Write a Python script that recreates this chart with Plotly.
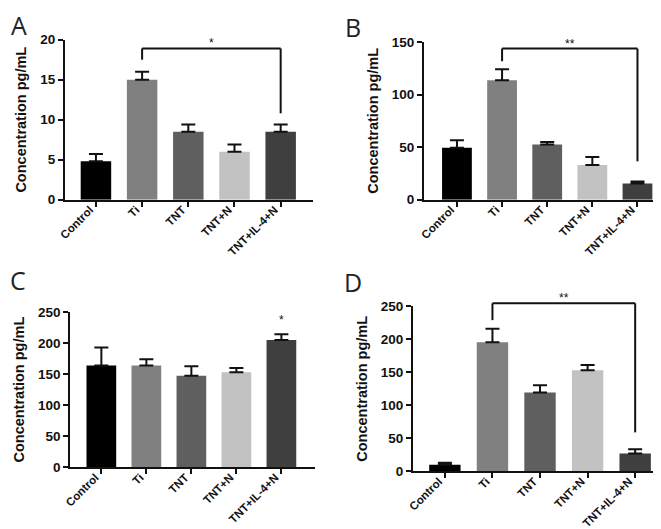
import plotly.graph_objects as go

W, H = 661, 529

groups = ["Control", "Ti", "TNT", "TNT+N", "TNT+IL-4+N"]
bar_colors = ["#000000", "#808080", "#5f5f5f", "#c2c2c2", "#3f3f3f"]

a_mean = [4.8, 15.0, 8.5, 6.0, 8.5]
a_err = [0.9, 1.0, 0.9, 0.9, 0.9]
b_mean = [49.5, 113.5, 52.5, 33.0, 15.5]
b_err = [7.0, 10.5, 2.5, 7.5, 1.8]
c_mean = [164, 164, 147.5, 153, 205]
c_err = [29, 10, 15, 7, 9]
d_mean = [10, 195.5, 119.5, 153, 27]
d_err = [3, 20.5, 11, 8, 6.5]

# significance brackets: (from group, to group, top, left drop, right drop, label)
a_sig = ("Ti", "TNT+IL-4+N", 18.9, 17.5, 10.8, "*")
b_sig = ("Ti", "TNT+IL-4+N", 143.7, 131.7, 36.5, "**")
d_sig = ("Ti", "TNT+IL-4+N", 254.5, 229.0, 59.0, "**")
c_star = ("TNT+IL-4+N", 222.0, "*")

panels = [
    dict(name="A", mean=a_mean, err=a_err, ymax=20, dtick=5,
         xdom=(57 / W, 305 / W), ydom=(1 - 191.7 / H, 1 - 31.7 / H),
         xr=(-0.67, 4.7), sig=a_sig, label_xy=(11, 17)),
    dict(name="B", mean=b_mean, err=b_err, ymax=150, dtick=50,
         xdom=(416 / W, 657 / W), ydom=(1 - 191.7 / H, 1 - 34 / H),
         xr=(-0.73, 4.61), sig=b_sig, label_xy=(345, 19)),
    dict(name="C", mean=c_mean, err=c_err, ymax=250, dtick=50,
         xdom=(62.3 / W, 306.7 / W), ydom=(1 - 459.3 / H, 1 - 304 / H),
         xr=(-0.69, 4.74), sig=None, label_xy=(10, 272)),
    dict(name="D", mean=d_mean, err=d_err, ymax=250, dtick=50,
         xdom=(405 / W, 660 / W), ydom=(1 - 463.3 / H, 1 - 298.3 / H),
         xr=(-0.67, 4.69), sig=d_sig, label_xy=(345, 274)),
]

FONT = "Liberation Sans, Arial, sans-serif"

fig = go.Figure()
shapes = []
annotations = []

for i, p in enumerate(panels, start=1):
    xa = "x" if i == 1 else f"x{i}"
    ya = "y" if i == 1 else f"y{i}"
    fig.add_trace(go.Bar(
        x=groups, y=p["mean"], xaxis=xa, yaxis=ya,
        marker=dict(color=bar_colors, line=dict(width=0)),
        width=0.66,
        error_y=dict(type="data", array=p["err"], arrayminus=[0] * 5,
                     symmetric=False, color="#111111", thickness=2, width=7),
        showlegend=False,
    ))
    axis_common = dict(showline=True, linewidth=2, linecolor="#111111",
                       ticks="outside", ticklen=5, tickwidth=2, tickcolor="#111111",
                       showgrid=False, zeroline=False, automargin=False)
    xkey = "xaxis" if i == 1 else f"xaxis{i}"
    ykey = "yaxis" if i == 1 else f"yaxis{i}"
    fig.update_layout(**{
        xkey: dict(axis_common, domain=list(p["xdom"]), anchor=ya,
                   type="category", range=list(p["xr"]), tickangle=-45,
                   ticklabelstandoff=-8, ticklabelshift=-6,
                   tickfont=dict(family=FONT, size=11.5, color="#111111", weight="bold"),
                   categoryorder="array", categoryarray=groups),
        ykey: dict(axis_common, domain=list(p["ydom"]), anchor=xa,
                   range=[0, p["ymax"]], dtick=p["dtick"], tick0=0,
                   tickfont=dict(family=FONT, size=13.5, color="#111111", weight="bold"),
                   title=dict(text="Concentration pg/mL", standoff=10,
                              font=dict(family=FONT, size=14.5, color="#111111", weight="bold"))),
    })

    def py(v, p=p):
        y0, y1 = p["ydom"]
        return y0 + v / p["ymax"] * (y1 - y0)

    if p["sig"] is not None:
        g0, g1, top, ldrop, rdrop, lab = p["sig"]
        line = dict(color="#111111", width=2)
        shapes.append(dict(type="line", xref=xa, yref="paper", x0=g0, x1=g0,
                           y0=py(ldrop), y1=py(top), line=line))
        shapes.append(dict(type="line", xref=xa, yref="paper", x0=g0, x1=g1,
                           y0=py(top), y1=py(top), line=line))
        shapes.append(dict(type="line", xref=xa, yref="paper", x0=g1, x1=g1,
                           y0=py(top), y1=py(rdrop), line=line))
        annotations.append(dict(text=lab, xref=xa, yref="paper",
                                 x=(groups.index(g0) + groups.index(g1)) / 2,
                                 y=py(top), yanchor="bottom", yshift=-4, showarrow=False,
                                 font=dict(family=FONT, size=12, color="#111111")))
    if p["name"] == "C":
        g, yv, lab = c_star
        annotations.append(dict(text=lab, xref=xa, yref="paper", x=g, y=py(yv),
                                yanchor="bottom", showarrow=False,
                                font=dict(family=FONT, size=12, color="#111111")))

    lx, ly = p["label_xy"]
    annotations.append(dict(text=p["name"], xref="paper", yref="paper",
                            x=lx / W, y=1 - ly / H, xanchor="center", yanchor="middle",
                            showarrow=False,
                            font=dict(family="Open Sans, sans-serif", size=25, color="#222222")))

fig.update_layout(
    width=W, height=H,
    margin=dict(l=0, r=0, t=0, b=0),
    paper_bgcolor="white", plot_bgcolor="white",
    shapes=shapes, annotations=annotations,
)

fig.write_html("out.html")
